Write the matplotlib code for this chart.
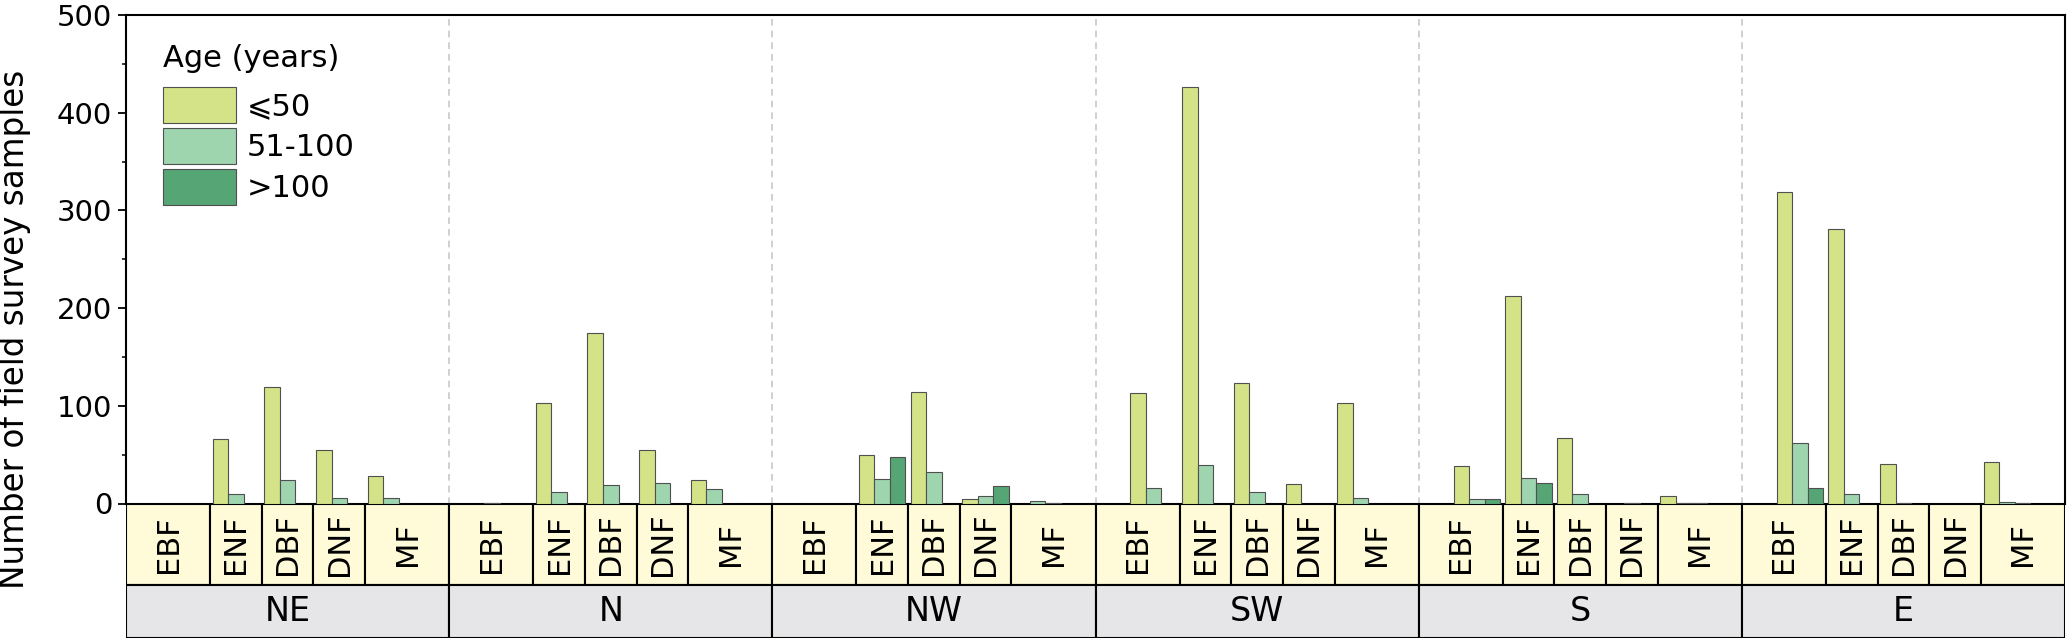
import matplotlib
matplotlib.use("Agg")
import matplotlib.pyplot as plt
from matplotlib.patches import Rectangle
from matplotlib.ticker import MultipleLocator

plt.rcParams['font.family'] = ['DejaVu Sans']

######## data #########

regions = ["NE", "N", "NW", "SW", "S", "E"]
forests = ["EBF", "ENF", "DBF", "DNF", "MF"]
ages = ["⩽50", "51-100", ">100"]

# one row per region, columns in the order of forests
age_le50 = [
    [0, 66, 119, 55, 28],     # NE
    [1, 103, 175, 55, 24],    # N
    [0, 50, 114, 5, 0],       # NW
    [113, 426, 123, 20, 103], # SW
    [38, 212, 67, 0, 8],      # S
    [319, 281, 40, 0, 42],    # E
]
age_51_100 = [
    [0, 10, 24, 6, 6],
    [0, 12, 19, 21, 15],
    [0, 25, 32, 8, 3],
    [16, 39, 12, 0, 6],
    [5, 26, 10, 1, 1],
    [62, 10, 1, 0, 2],
]
age_gt100 = [
    [0, 0, 0, 0, 0],
    [0, 0, 0, 0, 0],
    [0, 48, 0, 18, 1],
    [0, 0, 0, 0, 0],
    [5, 21, 0, 0, 1],
    [16, 0, 0, 0, 1],
]

colors = ["#d4e388", "#9ed5af", "#56a574"]
band_yellow = "#fffbd8"
band_gray = "#e6e6e8"

######## layout #########

W, H = 2067, 640
region_w = 6.25   # x units per region
margin = 0.625    # extra room left of EBF and right of MF
bar_w = 0.3

fig = plt.figure(figsize=(W / 100, H / 100), dpi=100)
left, right = 126 / W, 2065 / W
top_px, zero_px, split_px, bottom_px = 15, 503.5, 585, 637.5

ax = fig.add_axes([left, 1 - zero_px / H, right - left, (zero_px - top_px) / H])
band = fig.add_axes([left, 1 - bottom_px / H, right - left, (bottom_px - zero_px) / H], sharex=ax)

series = [age_le50, age_51_100, age_gt100]
handles = []
for k, values in enumerate(series):
    xs, hs = [], []
    for r in range(len(regions)):
        for i in range(len(forests)):
            pos = r * region_w + margin + 0.5 + i
            xs.append(pos + (k - 1) * bar_w)
            hs.append(values[r][i])
    b = ax.bar(xs, hs, width=bar_w, color=colors[k], edgecolor="#505050", linewidth=0.8, label=ages[k], zorder=3)
    handles.append(b)

# dashed separators between regions
for r in range(1, len(regions)):
    ax.axvline(r * region_w, color="#c8c8c8", linestyle=(0, (4, 3)), linewidth=1.2, zorder=1)

ax.set_xlim(0, region_w * len(regions))
ax.set_ylim(0, 500)
ax.yaxis.set_major_locator(MultipleLocator(100))
ax.yaxis.set_minor_locator(MultipleLocator(50))
ax.tick_params(axis="y", which="major", direction="out", length=6, width=1.3, labelsize=21, pad=4)
ax.tick_params(axis="y", which="minor", direction="out", length=3, width=1.1)
ax.tick_params(axis="x", which="both", bottom=False, labelbottom=False)
for s in ax.spines.values():
    s.set_linewidth(1.5)

fig.text(15 / W, 1 - 329 / H, "Number of field survey samples", rotation=90,
         ha="center", va="center", fontsize=23.5)

leg = ax.legend(handles=handles, title="Age (years)", loc="upper left",
                bbox_to_anchor=(0.019, 0.94), frameon=False, fontsize=22, title_fontsize=22,
                handlelength=2.4, handleheight=1.42, labelspacing=0.17, handletextpad=0.35,
                borderaxespad=0, borderpad=0, alignment="left")
leg._legend_box.sep = 10  # a bit more room under the title

######## category bands #########

split = (bottom_px - split_px) / (bottom_px - zero_px)
band.set_ylim(0, 1)
band.axis("off")
for r, reg in enumerate(regions):
    x0 = r * region_w
    edges = [x0] + [x0 + margin + 1 + i for i in range(4)] + [x0 + region_w]
    for i, ft in enumerate(forests):
        band.add_patch(Rectangle((edges[i], split), edges[i + 1] - edges[i], 1 - split,
                                 facecolor=band_yellow, edgecolor="black", linewidth=1.5))
        band.text((edges[i] + edges[i + 1]) / 2, (1 + split) / 2, ft, rotation=90,
                  ha="center", va="center", fontsize=22)
    band.add_patch(Rectangle((x0, 0), region_w, split, facecolor=band_gray,
                             edgecolor="black", linewidth=1.5))
    band.text(x0 + region_w / 2, split / 2, reg, ha="center", va="center", fontsize=24)

fig.savefig("out.png", dpi=100)
